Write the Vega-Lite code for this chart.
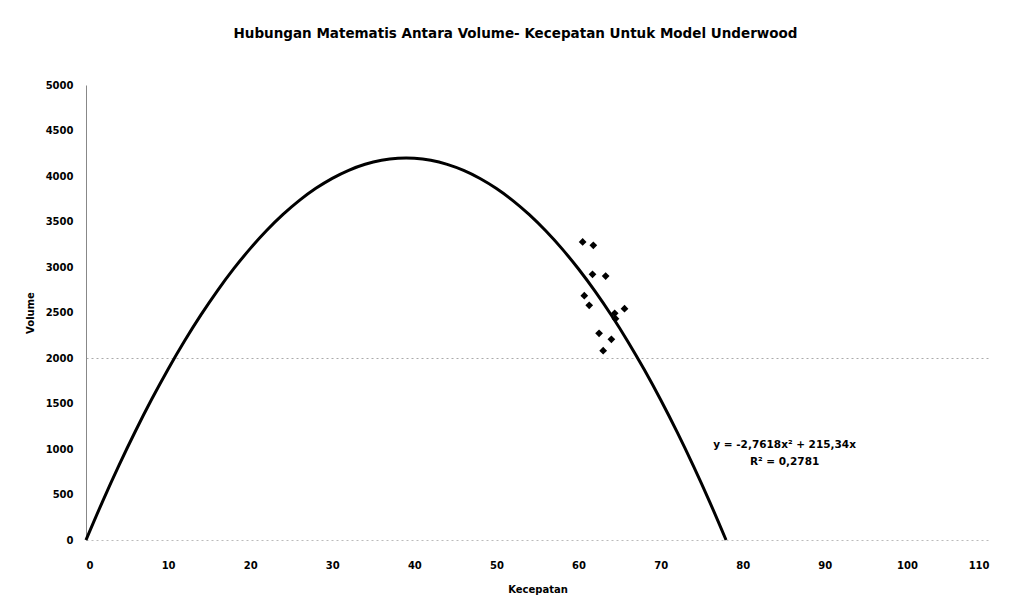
{
  "$schema": "https://vega.github.io/schema/vega-lite/v6.json",
  "autosize": "none",
  "width": 903,
  "height": 455,
  "padding": {"left": 86, "top": 85, "right": 28, "bottom": 75},
  "background": "white",
  "config": {"view": {"stroke": null}, "font": "DejaVu Sans"},
  "title": {
    "text": "Hubungan Matematis Antara Volume- Kecepatan Untuk Model Underwood",
    "font": "DejaVu Sans", "fontSize": 13.5, "fontWeight": "bold", "color": "#000",
    "anchor": "middle", "dx": -22, "offset": 40
  },
  "datasets": {
    "curve": [
      {"Kecepatan": 0, "Volume": 0}, {"Kecepatan": 2, "Volume": 419.6}, {"Kecepatan": 4, "Volume": 817.2},
      {"Kecepatan": 6, "Volume": 1192.6}, {"Kecepatan": 8, "Volume": 1546.0}, {"Kecepatan": 10, "Volume": 1877.2},
      {"Kecepatan": 12, "Volume": 2186.4}, {"Kecepatan": 14, "Volume": 2473.5}, {"Kecepatan": 16, "Volume": 2738.4},
      {"Kecepatan": 18, "Volume": 2981.3}, {"Kecepatan": 20, "Volume": 3202.1}, {"Kecepatan": 22, "Volume": 3400.8},
      {"Kecepatan": 24, "Volume": 3577.4}, {"Kecepatan": 26, "Volume": 3731.9}, {"Kecepatan": 28, "Volume": 3864.3},
      {"Kecepatan": 30, "Volume": 3974.6}, {"Kecepatan": 32, "Volume": 4062.8}, {"Kecepatan": 34, "Volume": 4128.9},
      {"Kecepatan": 36, "Volume": 4172.9}, {"Kecepatan": 38, "Volume": 4194.9}, {"Kecepatan": 39, "Volume": 4197.6},
      {"Kecepatan": 40, "Volume": 4194.7}, {"Kecepatan": 42, "Volume": 4172.5}, {"Kecepatan": 44, "Volume": 4128.1},
      {"Kecepatan": 46, "Volume": 4061.7}, {"Kecepatan": 48, "Volume": 3973.1}, {"Kecepatan": 50, "Volume": 3862.5},
      {"Kecepatan": 52, "Volume": 3729.8}, {"Kecepatan": 54, "Volume": 3574.9}, {"Kecepatan": 56, "Volume": 3398.0},
      {"Kecepatan": 58, "Volume": 3199.0}, {"Kecepatan": 60, "Volume": 2977.9}, {"Kecepatan": 62, "Volume": 2734.7},
      {"Kecepatan": 64, "Volume": 2469.4}, {"Kecepatan": 66, "Volume": 2182.0}, {"Kecepatan": 68, "Volume": 1872.6},
      {"Kecepatan": 70, "Volume": 1541.0}, {"Kecepatan": 72, "Volume": 1187.3}, {"Kecepatan": 74, "Volume": 811.5},
      {"Kecepatan": 76, "Volume": 413.7}, {"Kecepatan": 77.97, "Volume": 0}
    ],
    "points": [
      {"Kecepatan": 60.5, "Volume": 3275}, {"Kecepatan": 61.8, "Volume": 3238}, {"Kecepatan": 61.7, "Volume": 2920},
      {"Kecepatan": 63.3, "Volume": 2901}, {"Kecepatan": 60.7, "Volume": 2685}, {"Kecepatan": 61.3, "Volume": 2579},
      {"Kecepatan": 64.4, "Volume": 2491}, {"Kecepatan": 64.5, "Volume": 2432}, {"Kecepatan": 65.6, "Volume": 2542},
      {"Kecepatan": 62.5, "Volume": 2271}, {"Kecepatan": 64.0, "Volume": 2205}, {"Kecepatan": 63.0, "Volume": 2080}
    ],
    "labels": [
      {"Kecepatan": 85.1, "Volume": 1044, "label": "y = -2,7618x² + 215,34x"},
      {"Kecepatan": 85.1, "Volume": 857, "label": "R² = 0,2781"}
    ]
  },
  "layer": [
    {
      "data": {"name": "curve"},
      "mark": {"type": "line", "color": "#000", "strokeWidth": 3, "interpolate": "monotone"},
      "encoding": {
        "x": {"field": "Kecepatan", "type": "quantitative",
          "scale": {"domain": [0, 110], "nice": false, "zero": true},
          "axis": {"values": [0,10,20,30,40,50,60,70,80,90,100,110], "title": "Kecepatan",
            "grid": false, "ticks": false, "domainColor": "#bbb", "domainDash": [2, 3], "domainWidth": 1,
            "labelPadding": 20, "labelFont": "DejaVu Sans", "labelFontSize": 10, "labelFontWeight": "bold", "labelColor": "#000",
            "titleFont": "DejaVu Sans", "titleFontSize": 10, "titleFontWeight": "bold", "titleColor": "#000", "titlePadding": 14}},
        "y": {"field": "Volume", "type": "quantitative",
          "scale": {"domain": [0, 5000], "nice": false},
          "axis": {"values": [0,500,1000,1500,2000,2500,3000,3500,4000,4500,5000], "title": "Volume", "format": "d",
            "grid": true, "gridColor": "#aaa", "gridDash": [2, 3], "gridWidth": 1,
            "gridOpacity": {"condition": {"test": "datum.value === 2000", "value": 1}, "value": 0},
            "ticks": false, "domainColor": "#888", "domainWidth": 1,
            "labelPadding": 13, "labelFont": "DejaVu Sans", "labelFontSize": 10, "labelFontWeight": "bold", "labelColor": "#000",
            "titleFont": "DejaVu Sans", "titleFontSize": 10, "titleFontWeight": "bold", "titleColor": "#000", "titlePadding": 10}}
      }
    },
    {
      "data": {"name": "points"},
      "mark": {"type": "point", "shape": "diamond", "filled": true, "color": "#000", "size": 60, "opacity": 1},
      "encoding": {
        "x": {"field": "Kecepatan", "type": "quantitative"},
        "y": {"field": "Volume", "type": "quantitative"}
      }
    },
    {
      "data": {"name": "labels"},
      "mark": {"type": "text", "font": "DejaVu Sans", "fontSize": 10.5, "fontWeight": "bold", "color": "#000", "align": "center", "baseline": "middle"},
      "encoding": {
        "x": {"field": "Kecepatan", "type": "quantitative"},
        "y": {"field": "Volume", "type": "quantitative"},
        "text": {"field": "label"}
      }
    }
  ]
}
